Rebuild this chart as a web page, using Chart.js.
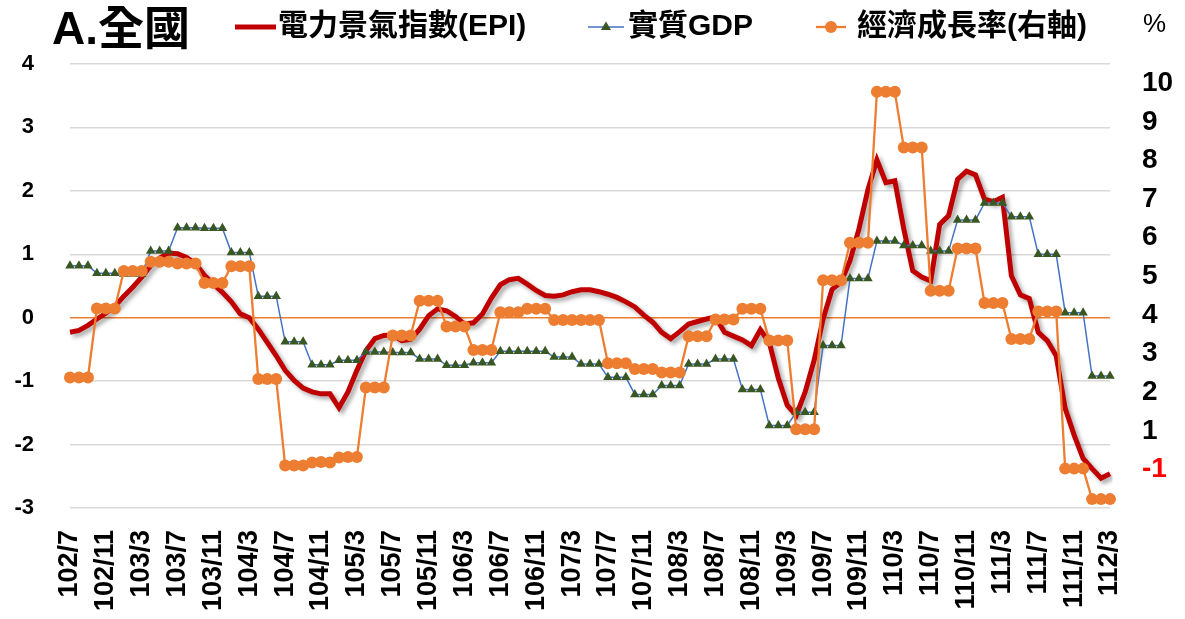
<!DOCTYPE html>
<html>
<head>
<meta charset="utf-8">
<script src="https://cdn.jsdelivr.net/npm/chart.js@4/dist/chart.umd.min.js"></script>
<style>
  html, body { margin: 0; padding: 0; background: #fff; }
  #wrap { width: 1185px; height: 619px; }
</style>
</head>
<body>
<div id="wrap"><canvas id="chart" width="1185" height="619"></canvas></div>
<script>
const FONT = "'Liberation Sans', 'Noto Sans CJK TC', sans-serif";

// 102/7 ~ 112/3 monthly categories (ROC year/month)
const months = [];
for (let y = 102, m = 7; y < 112 || (y === 112 && m <= 3); m++) {
  if (m > 12) { m = 1; y++; if (y === 112 && m > 3) break; }
  months.push(y + '/' + m);
}

// 電力景氣指數(EPI), left axis
const epi = [
  -0.23, -0.20, -0.12, -0.02, 0.07, 0.18, 0.34, 0.48, 0.64, 0.82, 0.94, 1.02,
  1.01, 0.95, 0.85, 0.67, 0.53, 0.40, 0.25, 0.06, 0.00, -0.18, -0.39, -0.60,
  -0.83, -0.99, -1.11, -1.17, -1.20, -1.20, -1.42, -1.17, -0.83, -0.52, -0.33, -0.28,
  -0.27, -0.36, -0.34, -0.18, 0.03, 0.14, 0.11, 0.02, -0.10, -0.08, 0.06, 0.31,
  0.52, 0.60, 0.62, 0.53, 0.43, 0.35, 0.34, 0.36, 0.41, 0.44, 0.44, 0.41,
  0.37, 0.32, 0.25, 0.17, 0.04, -0.07, -0.23, -0.33, -0.22, -0.10, -0.06, -0.02,
  0.01, -0.23, -0.29, -0.35, -0.44, -0.19, -0.39, -0.95, -1.38, -1.54, -1.17, -0.67,
  -0.02, 0.45, 0.56, 0.90, 1.40, 2.02, 2.49, 2.13, 2.16, 1.40, 0.74, 0.64,
  0.58, 1.47, 1.61, 2.18, 2.31, 2.25, 1.87, 1.83, 1.90, 0.66, 0.36, 0.30,
  -0.23, -0.36, -0.60, -1.43, -1.85, -2.22, -2.38, -2.53, -2.46
];

// 實質GDP (quarterly value shown on each month), left axis
const gdp = [
  0.82, 0.82, 0.82, 0.70, 0.70, 0.70, 0.69, 0.69, 0.69, 1.05, 1.05, 1.05,
  1.42, 1.42, 1.42, 1.41, 1.41, 1.41, 1.03, 1.03, 1.03, 0.34, 0.34, 0.34,
  -0.38, -0.38, -0.38, -0.74, -0.74, -0.74, -0.67, -0.67, -0.67, -0.54, -0.54, -0.54,
  -0.55, -0.55, -0.55, -0.65, -0.65, -0.65, -0.75, -0.75, -0.75, -0.71, -0.71, -0.71,
  -0.53, -0.53, -0.53, -0.53, -0.53, -0.53, -0.62, -0.62, -0.62, -0.73, -0.73, -0.73,
  -0.94, -0.94, -0.94, -1.21, -1.21, -1.21, -1.07, -1.07, -1.07, -0.73, -0.73, -0.73,
  -0.65, -0.65, -0.65, -1.13, -1.13, -1.13, -1.70, -1.70, -1.70, -1.49, -1.49, -1.49,
  -0.44, -0.44, -0.44, 0.62, 0.62, 0.62, 1.21, 1.21, 1.21, 1.14, 1.14, 1.14,
  1.05, 1.05, 1.05, 1.54, 1.54, 1.54, 1.81, 1.81, 1.81, 1.59, 1.59, 1.59,
  1.00, 1.00, 1.00, 0.08, 0.08, 0.08, -0.92, -0.92, -0.92
];

// 經濟成長率(右軸), right axis units
const growth = [
  2.38, 2.38, 2.38, 4.17, 4.17, 4.17, 5.14, 5.14, 5.14, 5.38, 5.38, 5.38,
  5.33, 5.33, 5.33, 4.83, 4.83, 4.83, 5.26, 5.26, 5.26, 2.34, 2.34, 2.34,
  0.10, 0.10, 0.10, 0.18, 0.19, 0.18, 0.31, 0.32, 0.32, 2.12, 2.12, 2.12,
  3.47, 3.47, 3.47, 4.37, 4.37, 4.37, 3.70, 3.70, 3.70, 3.09, 3.09, 3.09,
  4.07, 4.07, 4.07, 4.16, 4.16, 4.16, 3.87, 3.87, 3.87, 3.87, 3.87, 3.87,
  2.75, 2.75, 2.75, 2.60, 2.60, 2.60, 2.51, 2.51, 2.51, 3.45, 3.45, 3.45,
  3.88, 3.88, 3.88, 4.16, 4.16, 4.16, 3.34, 3.34, 3.34, 1.04, 1.04, 1.04,
  4.90, 4.90, 4.90, 5.87, 5.87, 5.87, 9.78, 9.78, 9.78, 8.34, 8.34, 8.34,
  4.63, 4.63, 4.63, 5.72, 5.72, 5.72, 4.31, 4.31, 4.31, 3.38, 3.38, 3.38,
  4.09, 4.09, 4.09, 0.02, 0.02, 0.02, -0.77, -0.77, -0.77
];

const rightTicks = [0, 1, 2, 3, 4, 5, 6, 7, 8, 9, 10];
const rightTickText = ['-1', '1', '2', '3', '4', '5', '6', '7', '8', '9', '10'];

const shadow = {
  id: 'shadow',
  beforeDatasetDraw(chart, args) {
    if (args.index !== 0) return;
    const ctx = chart.ctx;
    ctx.save();
    ctx.shadowColor = 'rgba(0,0,0,0.35)';
    ctx.shadowBlur = 4;
    ctx.shadowOffsetX = 3;
    ctx.shadowOffsetY = 3;
  },
  afterDatasetDraw(chart, args) {
    if (args.index !== 0) return;
    chart.ctx.restore();
  }
};

const header = {
  id: 'header',
  afterDraw(chart) {
    const ctx = chart.ctx;
    ctx.save();
    ctx.textBaseline = 'middle';
    ctx.fillStyle = '#000';
    ctx.font = 'bold 46px ' + FONT;
    ctx.fillText('A.全國', 52, 31);

    const ly = 27;
    ctx.font = 'bold 30px ' + FONT;
    // EPI
    ctx.strokeStyle = '#C00000';
    ctx.lineWidth = 5;
    ctx.beginPath(); ctx.moveTo(235, ly); ctx.lineTo(276, ly); ctx.stroke();
    ctx.fillText('電力景氣指數(EPI)', 278, ly);
    // GDP
    ctx.strokeStyle = '#4472C4';
    ctx.lineWidth = 1.5;
    ctx.beginPath(); ctx.moveTo(588, ly); ctx.lineTo(624, ly); ctx.stroke();
    ctx.fillStyle = '#385723';
    ctx.beginPath();
    ctx.moveTo(606, ly - 5.5); ctx.lineTo(611, ly + 3); ctx.lineTo(601, ly + 3);
    ctx.closePath(); ctx.fill();
    ctx.fillStyle = '#000';
    ctx.fillText('實質GDP', 628, ly);
    // growth
    ctx.strokeStyle = '#ED7D31';
    ctx.lineWidth = 2.3;
    ctx.beginPath(); ctx.moveTo(816, ly); ctx.lineTo(846, ly); ctx.stroke();
    ctx.fillStyle = '#ED7D31';
    ctx.beginPath(); ctx.arc(831, ly, 6, 0, Math.PI * 2); ctx.fill();
    ctx.fillStyle = '#000';
    ctx.fillText('經濟成長率(右軸)', 857, ly);

    ctx.font = '26px ' + FONT;
    ctx.fillText('%', 1143, 25);
    ctx.restore();
  }
};

new Chart(document.getElementById('chart'), {
  type: 'line',
  data: {
    labels: months,
    datasets: [
      {
        label: '電力景氣指數(EPI)',
        data: epi,
        yAxisID: 'y',
        borderColor: '#C00000',
        borderWidth: 5,
        pointRadius: 0,
        tension: 0,
        order: 3
      },
      {
        label: '實質GDP',
        data: gdp,
        yAxisID: 'y',
        borderColor: '#4472C4',
        borderWidth: 1.5,
        pointStyle: 'triangle',
        pointRadius: 5.5,
        pointBackgroundColor: '#385723',
        pointBorderColor: '#385723',
        pointBorderWidth: 0,
        tension: 0,
        order: 2
      },
      {
        label: '經濟成長率(右軸)',
        data: growth,
        yAxisID: 'y1',
        borderColor: '#ED7D31',
        borderWidth: 2.3,
        pointStyle: 'circle',
        pointRadius: 6,
        pointBackgroundColor: '#ED7D31',
        pointBorderColor: '#ED7D31',
        pointBorderWidth: 0,
        tension: 0,
        order: 1
      }
    ]
  },
  options: {
    responsive: false,
    animation: false,
    layout: { padding: { top: 64, left: 0, right: 0, bottom: 0 } },
    plugins: {
      legend: { display: false },
      title: { display: false },
      tooltip: { enabled: false }
    },
    scales: {
      x: {
        offset: false,
        grid: { display: false, drawTicks: false },
        border: { display: false },
        afterFit(scale) { scale.height = 111; },
        ticks: {
          autoSkip: false,
          maxRotation: 90,
          minRotation: 90,
          padding: 22,
          color: '#000',
          font: { family: FONT, size: 27, weight: 'bold' },
          callback(value, index) {
            return index % 4 === 0 ? months[index] : null;
          }
        }
      },
      y: {
        position: 'left',
        min: -3,
        max: 4,
        afterFit(scale) { scale.width = 70; },
        grid: {
          drawTicks: false,
          lineWidth: 1.5,
          color: ctx => (ctx.tick && ctx.tick.value === 0 ? '#ED7D31' : '#D9D9D9')
        },
        border: { display: false },
        ticks: {
          stepSize: 1,
          padding: 36,
          color: '#000',
          font: { family: FONT, size: 22, weight: 'bold' }
        }
      },
      y1: {
        position: 'right',
        min: -1,
        max: 10.5,
        afterFit(scale) { scale.width = 75; },
        afterBuildTicks(scale) { scale.ticks = rightTicks.map(v => ({ value: v })); },
        grid: { display: false, drawTicks: false },
        border: { display: false },
        ticks: {
          padding: 32,
          color: ctx => (ctx.tick && ctx.tick.value === 0 ? '#FF0000' : '#000'),
          font: { family: FONT, size: 28, weight: 'bold' },
          callback(value) {
            const k = rightTicks.indexOf(value);
            return k >= 0 ? rightTickText[k] : '';
          }
        }
      }
    }
  },
  plugins: [shadow, header]
});
</script>
</body>
</html>
